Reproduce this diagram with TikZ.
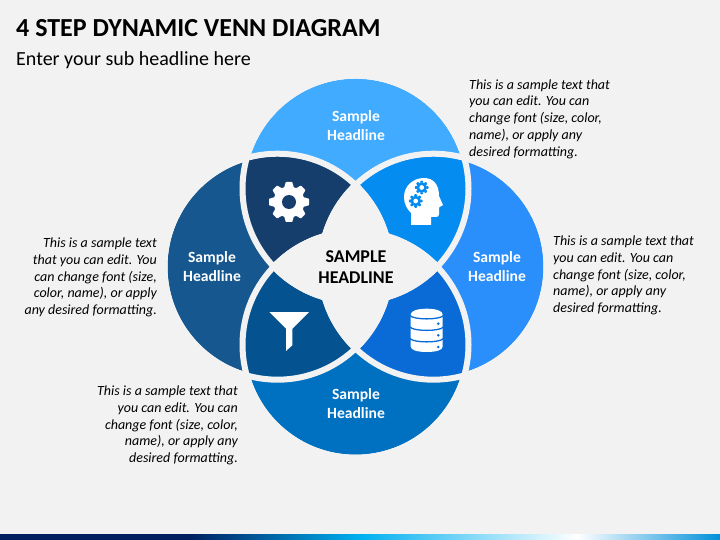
\documentclass[tikz,border=0pt]{standalone}
\usepackage{fontspec}
\usepackage{xcolor}
\setmainfont{Carlito}

\definecolor{pagegray}{HTML}{F2F2F2}
\definecolor{topblue}{HTML}{41ABFF}
\definecolor{rightblue}{HTML}{2A8FFB}
\definecolor{bottomblue}{HTML}{0070C0}
\definecolor{leftblue}{HTML}{17578F}
\definecolor{gearblue}{HTML}{163E6C}
\definecolor{brainblue}{HTML}{058CF0}
\definecolor{dbblue}{HTML}{0A6BD6}
\definecolor{funnelblue}{HTML}{04528F}
\definecolor{stripnavy}{HTML}{002060}
\definecolor{stripcyan}{HTML}{00B0F0}
\definecolor{stripend}{HTML}{0090DA}

\tikzset{
  maintitle/.style={anchor=west,inner sep=0pt,font=\fontsize{26}{30}\selectfont\bfseries},
  subtitle/.style={anchor=west,inner sep=0pt,font=\fontsize{20}{24}\selectfont},
  headline/.style={align=center,inner sep=0pt,text=white,font=\fontsize{15.6}{19}\selectfont\bfseries},
  centerline/.style={align=center,inner sep=0pt,font=\fontsize{18}{20.5}\selectfont\bfseries},
  sidetext/.style={inner sep=0pt,font=\fontsize{14}{16.8}\selectfont\itshape},
  ring/.style={draw=pagegray,line width=6pt}
}

\newcommand{\gearicon}[4]{
\begin{scope}[shift={(#1)},scale=#2]
\fill[#3] (0,0) circle (15.5);
\foreach \ang in {0,45,...,315}
  \fill[#3,rotate=\ang,rounded corners=0.5pt] (-5,-14) -- (-3.2,-20) -- (3.2,-20) -- (5,-14) -- cycle;
\fill[#4] (0,0) circle (7);
\end{scope}
}

\begin{document}
\begin{tikzpicture}[x=1pt,y=-1pt]
\fill[pagegray] (0,0) rectangle (720,540);
\useasboundingbox (0,0) rectangle (720,540);

\coordinate (topc) at (355.5,188.7);
\coordinate (leftc) at (277.5,266.7);
\coordinate (rightc) at (433.5,266.7);
\coordinate (bottomc) at (355.5,344.7);

\fill[topblue] (topc) circle (110);
\fill[leftblue] (leftc) circle (110);
\fill[rightblue] (rightc) circle (110);
\fill[bottomblue] (bottomc) circle (110);

\begin{scope}
\clip (topc) circle (110);
\fill[gearblue] (leftc) circle (110);
\fill[brainblue] (rightc) circle (110);
\end{scope}
\begin{scope}
\clip (bottomc) circle (110);
\fill[funnelblue] (leftc) circle (110);
\fill[dbblue] (rightc) circle (110);
\end{scope}

\begin{scope}
\clip (topc) circle (116);
\fill[pagegray] (bottomc) circle (116);
\end{scope}
\begin{scope}
\clip (leftc) circle (116);
\fill[pagegray] (rightc) circle (116);
\end{scope}

\draw[ring] (topc) circle (113);
\draw[ring] (leftc) circle (113);
\draw[ring] (rightc) circle (113);
\draw[ring] (bottomc) circle (113);

\gearicon{289,202}{1}{white}{gearblue}

\fill[white] (411,225) -- (411,213) .. controls (407,209) and (404,204) .. (404,197)
  .. controls (404,186) and (413,178) .. (424,178)
  .. controls (433,178) and (439,184) .. (439,196)
  -- (443,205) -- (439,207.5) -- (439,214) .. controls (439,216) and (438,217) .. (436,217)
  -- (431,217) -- (431,225) -- cycle;
\gearicon{421.7,187.5}{0.34}{brainblue}{white}
\gearicon{415.7,201}{0.34}{brainblue}{white}

\fill[white] (269.3,312) -- (309,312) -- (292.3,328.7) -- (292.3,345.3) -- (286,351) -- (286,328.7) -- cycle;

\fill[white] (410.7,314.5) .. controls (410.7,311) and (417,308.7) .. (426.7,308.7)
  .. controls (436.4,308.7) and (442.7,311) .. (442.7,314.5)
  -- (442.7,346.5) .. controls (442.7,350) and (436.4,352) .. (426.7,352)
  .. controls (417,352) and (410.7,350) .. (410.7,346.5) -- cycle;
\foreach \y in {315.5,327,338.5}
  \draw[dbblue,line width=1.3pt] (410,\y) .. controls (413,\y+4.5) and (440.4,\y+4.5) .. (443.4,\y);
\foreach \y in {323.7,335.3,347}
  \fill[dbblue] (438.3,\y) circle (1.4);

\shade[left color=stripnavy,right color=stripnavy] (0,534) rectangle (190,540);
\shade[left color=stripnavy,right color=stripcyan] (190,534) rectangle (360,540);
\shade[left color=stripcyan,right color=white] (360,534) rectangle (577,540);
\shade[left color=white,right color=stripend] (577,534) rectangle (720,540);

\node[maintitle] (title) at (16,28) {4 STEP DYNAMIC VENN DIAGRAM};
\node[subtitle] (subhead) at (16,60) {Enter your sub headline here};

\node[headline] (toplabel) at (356,125.5) {Sample\\Headline};
\node[headline] (leftlabel) at (212,266.5) {Sample\\Headline};
\node[headline] (rightlabel) at (497,266.5) {Sample\\Headline};
\node[headline] (bottomlabel) at (356,403.5) {Sample\\Headline};
\node[centerline] (centerlabel) at (356,267) {SAMPLE\\HEADLINE};

\node[sidetext,align=left,anchor=west] (toptext) at (469,119) {This is a sample text that\\you can edit. You can\\change font (size, color,\\name), or apply any\\desired formatting.};
\node[sidetext,align=left,anchor=west] (righttext) at (553,275.5) {This is a sample text that\\you can edit. You can\\change font (size, color,\\name), or apply any\\desired formatting.};
\node[sidetext,align=right,anchor=east] (lefttext) at (157,277.5) {This is a sample text\\that you can edit. You\\can change font (size,\\color, name), or apply\\any desired formatting.};
\node[sidetext,align=right,anchor=east] (bottomtext) at (238,425.5) {This is a sample text that\\you can edit. You can\\change font (size, color,\\name), or apply any\\desired formatting.};
\end{tikzpicture}
\end{document}
